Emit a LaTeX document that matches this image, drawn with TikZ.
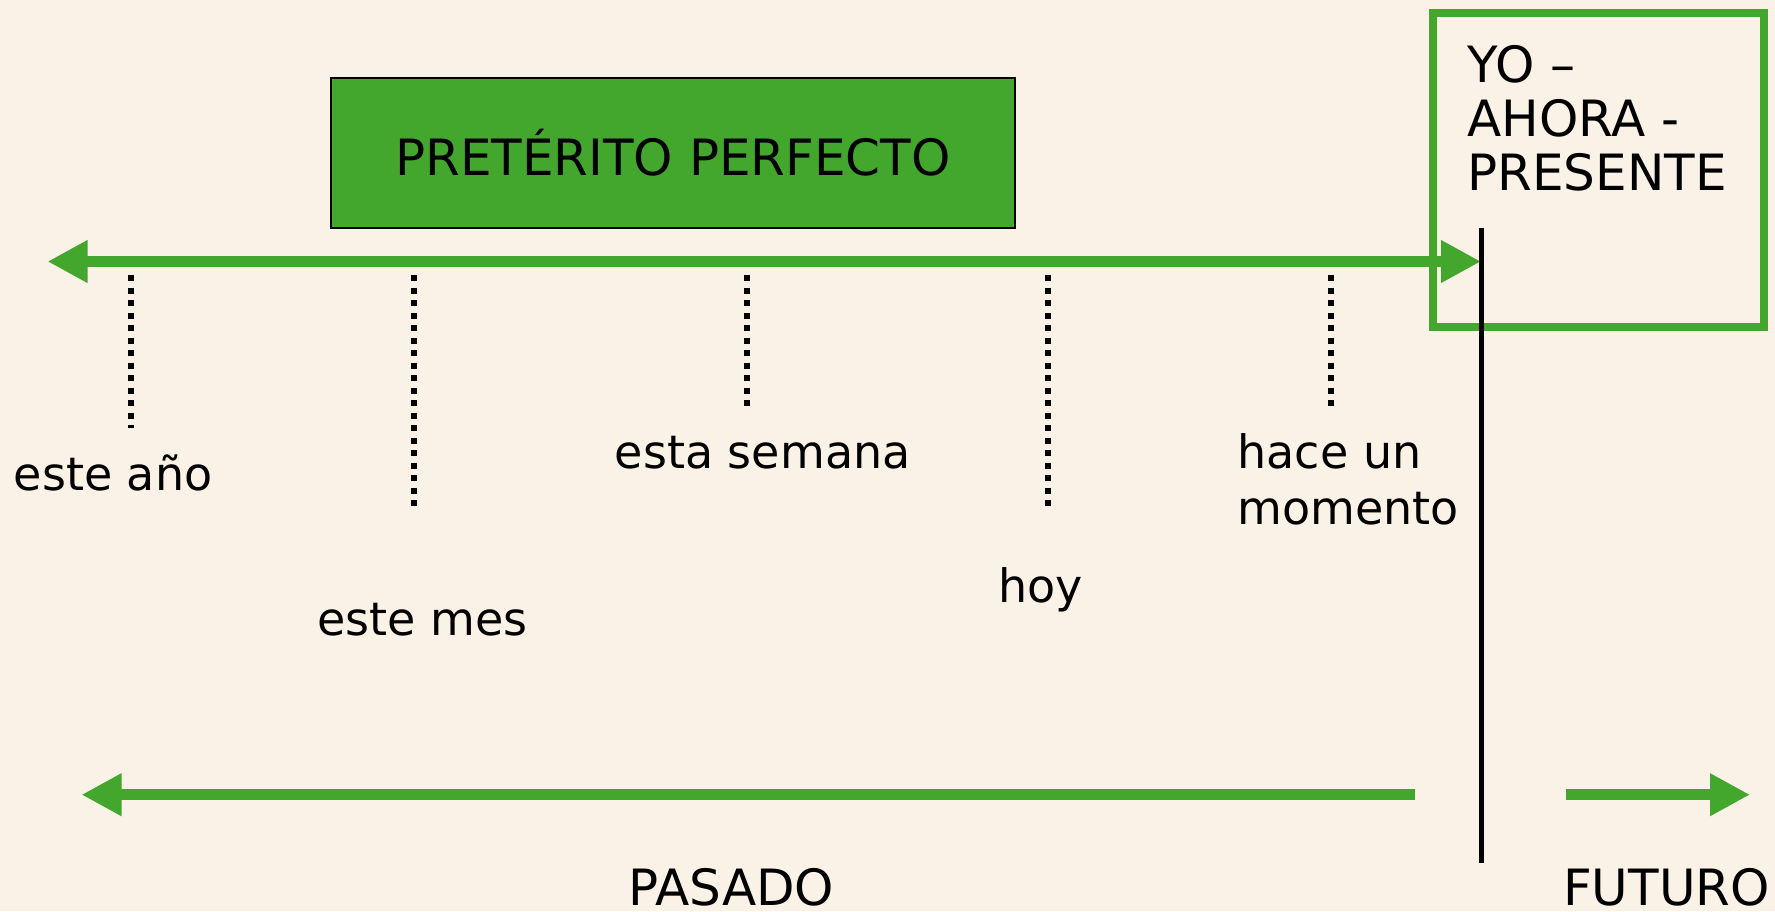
\documentclass[tikz,border=0pt]{standalone}
\usepackage{fontspec}
\setmainfont{DejaVu Sans}
\usetikzlibrary{arrows.meta}
\definecolor{bg}{RGB}{250,242,230}
\definecolor{grn}{RGB}{67,167,46}
\begin{document}
\begin{tikzpicture}[x=1pt,y=-1pt,
  lbl/.style={anchor=base west,inner sep=0pt,font=\fontsize{46}{55.5}\selectfont,align=left},
  big/.style={anchor=base west,inner sep=0pt,font=\fontsize{50}{54}\selectfont,align=left},
  garrow/.style={draw=grn,line width=11pt,-{Triangle[length=40pt,width=40pt]}},
  tick/.style={draw=black,line width=5.5pt,dash pattern=on 6pt off 6.5pt}]
\fill[bg] (0,0) rectangle (1775,911);
\useasboundingbox (0,0) rectangle (1775,911);
% title box
\node[draw=black,line width=2pt,fill=grn,minimum width=684pt,minimum height=150pt,inner sep=0pt] (pp) at (673,152.5) {};
\node[big,anchor=base] (pptext) at (673,175.5) {PRETÉRITO PERFECTO};
% present box
\draw[grn,line width=8pt] (1433,12.5) rectangle (1764,327);
\node[big] (yo) at (1467,190) {YO –\\AHORA -\\PRESENTE};
% main axis
\coordinate (axL) at (47.5,261.5);
\coordinate (axR) at (1481,261.5);
\draw[garrow,{Triangle[length=40pt,width=40pt]}-{Triangle[length=40pt,width=40pt]}] (axL) -- (axR);
% vertical now line
\coordinate (nowT) at (1481,227.5);
\coordinate (nowB) at (1481,862.5);
\draw[black,line width=5pt] (nowT) -- (nowB);
% ticks
\coordinate (t1a) at (131,275); \coordinate (t1b) at (131,428);
\coordinate (t2a) at (414,275); \coordinate (t2b) at (414,506);
\coordinate (t3a) at (747,275); \coordinate (t3b) at (747,411);
\coordinate (t4a) at (1048,275); \coordinate (t4b) at (1048,506);
\coordinate (t5a) at (1331,275); \coordinate (t5b) at (1331,411);
\draw[tick] (t1a) -- (t1b);
\draw[tick] (t2a) -- (t2b);
\draw[tick] (t3a) -- (t3b);
\draw[tick] (t4a) -- (t4b);
\draw[tick] (t5a) -- (t5b);
% labels
\node[lbl] (anio) at (13.6,490) {este año};
\node[lbl] (mes) at (317,635) {este mes};
\node[lbl] (semana) at (614.7,468.6) {esta semana};
\node[lbl] (hoy) at (998.4,602) {hoy};
\node[lbl] (momento) at (1237.3,524) {hace un\\momento};
% bottom arrows
\coordinate (pasR) at (1415,794.7);
\coordinate (pasL) at (81.5,794.7);
\coordinate (futL) at (1565.5,794.7);
\coordinate (futR) at (1750,794.7);
\draw[garrow] (pasR) -- (pasL);
\draw[garrow] (futL) -- (futR);
\node[big] (pasado) at (628,905.6) {PASADO};
\node[big] (futuro) at (1563,905.6) {FUTURO};
\end{tikzpicture}
\end{document}
